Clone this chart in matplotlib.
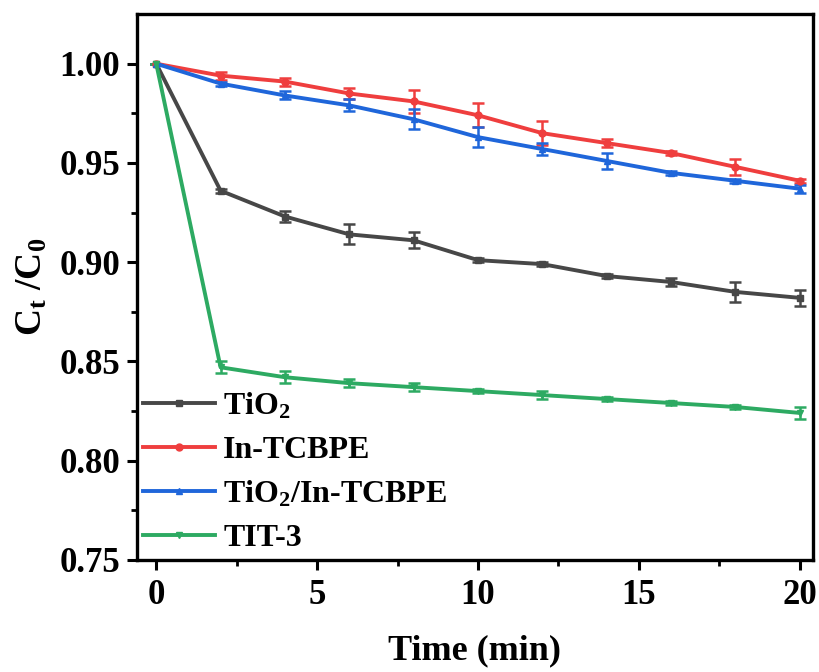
import matplotlib
matplotlib.use("Agg")
import matplotlib.pyplot as plt
from matplotlib.lines import Line2D
import numpy as np

time = [0, 2, 4, 6, 8, 10, 12, 14, 16, 18, 20]
tio2 = [1.000, 0.936, 0.923, 0.914, 0.911, 0.901, 0.899, 0.893, 0.890, 0.885, 0.882]
tio2_err = [0.0, 0.001, 0.003, 0.005, 0.004, 0.001, 0.001, 0.001, 0.002, 0.005, 0.004]
intcbpe = [1.000, 0.994, 0.991, 0.985, 0.981, 0.974, 0.965, 0.960, 0.955, 0.948, 0.941]
intcbpe_err = [0.0, 0.002, 0.002, 0.003, 0.006, 0.006, 0.006, 0.002, 0.001, 0.004, 0.001]
comp = [1.000, 0.990, 0.984, 0.979, 0.972, 0.963, 0.957, 0.951, 0.945, 0.941, 0.937]
comp_err = [0.0, 0.001, 0.002, 0.003, 0.005, 0.005, 0.003, 0.004, 0.001, 0.001, 0.002]
tit3 = [1.000, 0.847, 0.842, 0.839, 0.837, 0.835, 0.833, 0.831, 0.829, 0.827, 0.824]
tit3_err = [0.0, 0.003, 0.003, 0.002, 0.002, 0.001, 0.002, 0.001, 0.001, 0.001, 0.003]

labels = [r"TiO$_\mathregular{2}$", "In-TCBPE", r"TiO$_\mathregular{2}$/In-TCBPE", "TIT-3"]
colors = ["#474747", "#EF3E3E", "#1F66DA", "#2DAA62"]
markers = ["s", "o", "^", "v"]

plt.rcParams['font.family'] = ['Liberation Serif', 'DejaVu Serif']
plt.rcParams['font.weight'] = 'bold'
plt.rcParams['mathtext.fontset'] = 'custom'
plt.rcParams['mathtext.rm'] = 'Liberation Serif:bold'
plt.rcParams['mathtext.it'] = 'Liberation Serif:bold'
plt.rcParams['mathtext.bf'] = 'Liberation Serif:bold'

fig = plt.figure(figsize=(8.2, 6.72), dpi=100)
ax = fig.add_axes([0.167, 0.167, 0.824, 0.812])

series = [(tio2, tio2_err), (intcbpe, intcbpe_err), (comp, comp_err), (tit3, tit3_err)]
handles = []
for (y, e), lab, c, m in zip(series, labels, colors, markers):
    ax.errorbar(time, y, yerr=e, color=c, marker=m, markersize=5, lw=2.8,
                elinewidth=1.8, capsize=4, capthick=1.8)
    handles.append(Line2D([], [], color=c, marker=m, markersize=5, lw=2.8, label=lab))

ax.set_xlim(-0.6, 20.4)
ax.set_ylim(0.75, 1.025)
ax.set_xticks([0, 5, 10, 15, 20])
ax.set_xticks([2.5, 7.5, 12.5, 17.5], minor=True)
ax.set_yticks([0.75, 0.80, 0.85, 0.90, 0.95, 1.00])
ax.set_yticks([0.775, 0.825, 0.875, 0.925, 0.975], minor=True)
ax.yaxis.set_major_formatter(matplotlib.ticker.FormatStrFormatter('%.2f'))
ax.tick_params(which='major', direction='out', length=7, width=2.2, labelsize=25, pad=5)
ax.tick_params(axis='x', which='major', pad=7)
ax.tick_params(which='minor', direction='out', length=4, width=2.0)
for s in ax.spines.values():
    s.set_linewidth(2.4)
for t in ax.get_xticklabels() + ax.get_yticklabels():
    t.set_fontweight('bold')

ax.set_xlabel("Time (min)", fontsize=26, fontweight='bold', labelpad=16)
ax.set_ylabel(r"C$_\mathregular{t}$ /C$_\mathregular{0}$", fontsize=27, fontweight='bold', labelpad=7)

leg = ax.legend(handles=handles, loc='lower left', frameon=False, fontsize=23, handlelength=2.25,
                handletextpad=0.25, labelspacing=0.45, borderaxespad=0.0, borderpad=0.2,
                bbox_to_anchor=(0.0, 0.0))
for t in leg.get_texts():
    t.set_fontweight('bold')

fig.savefig("out.png", dpi=100)
